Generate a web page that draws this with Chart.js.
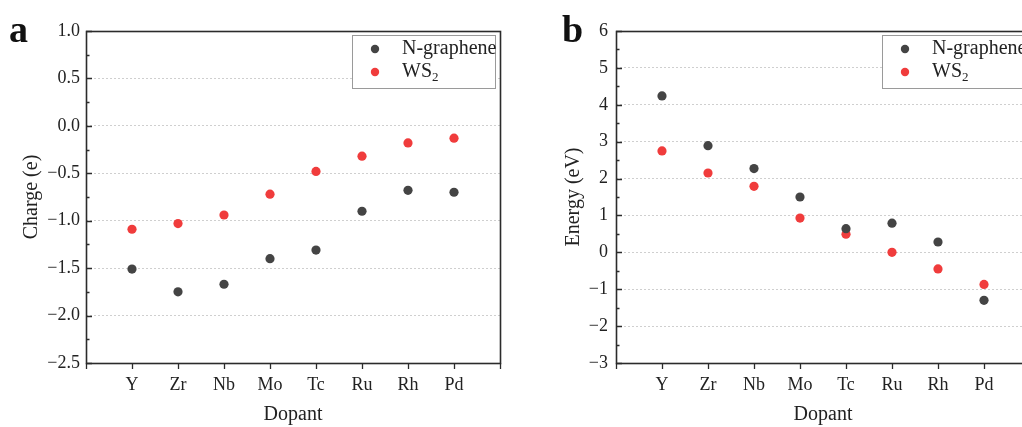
<!DOCTYPE html>
<html>
<head>
<meta charset="utf-8">
<script src="https://cdn.jsdelivr.net/npm/chart.js@4.4.1/dist/chart.umd.min.js"></script>
<style>
  html, body { margin: 0; padding: 0; background: #fff; overflow: hidden; width: 1022px; height: 427px; }
  .panel { position: absolute; top: 0; height: 427px; }
  #pa { left: 0; width: 511px; }
  #pb { left: 511px; width: 530px; }
</style>
</head>
<body>
<div class="panel" id="pa"><canvas id="ca" width="511" height="427"></canvas></div>
<div class="panel" id="pb"><canvas id="cb" width="530" height="427"></canvas></div>
<script>
// ---- data ----
const categories = ['Y', 'Zr', 'Nb', 'Mo', 'Tc', 'Ru', 'Rh', 'Pd'];
const seriesNames = ['N-graphene', 'WS2'];
const chargeNGraphene = [-1.51, -1.75, -1.67, -1.40, -1.31, -0.90, -0.68, -0.70];
const chargeWS2       = [-1.09, -1.03, -0.94, -0.72, -0.48, -0.32, -0.18, -0.13];
const energyNGraphene = [4.24, 2.89, 2.27, 1.50, 0.64, 0.79, 0.28, -1.30];
const energyWS2       = [2.75, 2.15, 1.79, 0.93, 0.49, 0.00, -0.45, -0.87];
const chargeAxis = { min: -2.5, max: 1.0, step: 0.5, decimals: 1 };
const energyAxis = { min: -3, max: 6, step: 1, decimals: 0 };

const FONT = "'Liberation Serif', 'Times New Roman', 'DejaVu Serif', serif";
const TXT = '#222222';
const AXC = '#2b2b2b';
const colors = ['#444444', '#f03c3c'];

function fmt(v, d) {
  const s = Math.abs(v).toFixed(d);
  return (v < -1e-9 ? '\u2212' : '') + s;
}

const framePlugin = {
  id: 'frame',
  afterDraw(chart, args, opts) {
    const ctx = chart.ctx;
    const a = chart.chartArea;
    const ys = chart.scales.y;
    ctx.save();
    // inward y ticks (major + minor)
    ctx.strokeStyle = AXC;
    ctx.lineWidth = 1.3;
    const tv = ys.ticks.map(t => t.value);
    ctx.beginPath();
    tv.forEach((v, i) => {
      const py = Math.round(ys.getPixelForValue(v)) + 0.5;
      ctx.moveTo(a.left, py); ctx.lineTo(a.left + 6, py);
      if (i < tv.length - 1) {
        const pm = Math.round(ys.getPixelForValue((v + tv[i + 1]) / 2)) + 0.5;
        ctx.moveTo(a.left, pm); ctx.lineTo(a.left + 3.5, pm);
      }
    });
    ctx.stroke();
    // frame
    ctx.lineWidth = 1.6;
    ctx.strokeRect(Math.round(a.left) + 0.5, Math.round(a.top) + 0.5, Math.round(a.width), Math.round(a.height));
    // legend
    const bx = a.right - 148, by = a.top + 4, bw = 143, bh = 53;
    ctx.fillStyle = '#ffffff';
    ctx.fillRect(bx, by, bw, bh);
    ctx.strokeStyle = '#9a9a9a';
    ctx.lineWidth = 1;
    ctx.strokeRect(bx + 0.5, by + 0.5, bw, bh);
    chart.data.datasets.forEach((ds, i) => {
      const cy = by + 14 + i * 23;
      ctx.fillStyle = ds.backgroundColor;
      ctx.beginPath(); ctx.arc(bx + 23, cy, 4.2, 0, Math.PI * 2); ctx.fill();
      ctx.fillStyle = TXT;
      ctx.textBaseline = 'middle';
      ctx.textAlign = 'left';
      const m = ds.label.match(/^(.*?)(\d+)$/);
      ctx.font = '20px ' + FONT;
      if (m) {
        ctx.fillText(m[1], bx + 50, cy);
        const w = ctx.measureText(m[1]).width;
        ctx.font = '13px ' + FONT;
        ctx.fillText(m[2], bx + 50 + w, cy + 6);
      } else {
        ctx.fillText(ds.label, bx + 50, cy);
      }
    });
    // panel letter
    ctx.fillStyle = '#111';
    ctx.font = 'bold 38px ' + FONT;
    ctx.textBaseline = 'alphabetic';
    ctx.textAlign = 'left';
    ctx.fillText(opts.letter, opts.letterX, 42);
    ctx.restore();
  }
};

function makeChart(id, cfg) {
  const mk = (vals) => vals.map((v, i) => ({ x: i + 1, y: v }));
  return new Chart(document.getElementById(id), {
    type: 'scatter',
    data: {
      datasets: [
        { label: seriesNames[0], data: mk(cfg.s1), backgroundColor: colors[0], borderWidth: 0, pointRadius: 4.6, pointHoverRadius: 4.6 },
        { label: seriesNames[1], data: mk(cfg.s2), backgroundColor: colors[1], borderWidth: 0, pointRadius: 4.6, pointHoverRadius: 4.6 }
      ]
    },
    options: {
      responsive: false,
      animation: false,
      events: [],
      layout: { padding: { top: 31, right: cfg.padRight, left: 0, bottom: 0 } },
      plugins: {
        legend: { display: false },
        tooltip: { enabled: false },
        frame: { letter: cfg.letter, letterX: cfg.letterX }
      },
      scales: {
        x: {
          type: 'linear', min: 0, max: categories.length + 1,
          afterFit: (s) => { s.height = 64; },
          ticks: {
            stepSize: 1, autoSkip: false, maxRotation: 0, padding: 5,
            color: TXT, font: { family: FONT, size: 18 },
            callback: (v) => categories[v - 1] || ''
          },
          grid: { display: true, drawOnChartArea: false, drawTicks: true, tickLength: 6, tickColor: AXC, tickWidth: 1.3 },
          border: { display: false },
          title: { display: true, text: 'Dopant', color: TXT, font: { family: FONT, size: 20 }, padding: { top: 0, bottom: 0 } }
        },
        y: {
          type: 'linear', min: cfg.axis.min, max: cfg.axis.max,
          afterFit: (s) => { s.width = cfg.yWidth; },
          ticks: {
            stepSize: cfg.axis.step, padding: cfg.tickPad,
            color: TXT, font: { family: FONT, size: 18 },
            callback: (v) => fmt(v, cfg.axis.decimals)
          },
          grid: { display: true, drawOnChartArea: true, drawTicks: false, color: '#cfcfcf', lineWidth: 1 },
          border: { display: false, dash: [2, 2] },
          title: { display: true, text: cfg.yTitle, color: TXT, font: { family: FONT, size: 20 }, padding: { top: cfg.titlePad, bottom: 0 } }
        }
      }
    },
    plugins: [framePlugin]
  });
}

makeChart('ca', { s1: chargeNGraphene, s2: chargeWS2, axis: chargeAxis, yTitle: 'Charge (e)', yWidth: 86, tickPad: 6, titlePad: 20, padRight: 11, letter: 'a', letterX: 9 });
makeChart('cb', { s1: energyNGraphene, s2: energyWS2, axis: energyAxis, yTitle: 'Energy (eV)', yWidth: 105, tickPad: 8, titlePad: 51, padRight: 11, letter: 'b', letterX: 51 });
</script>
</body>
</html>
